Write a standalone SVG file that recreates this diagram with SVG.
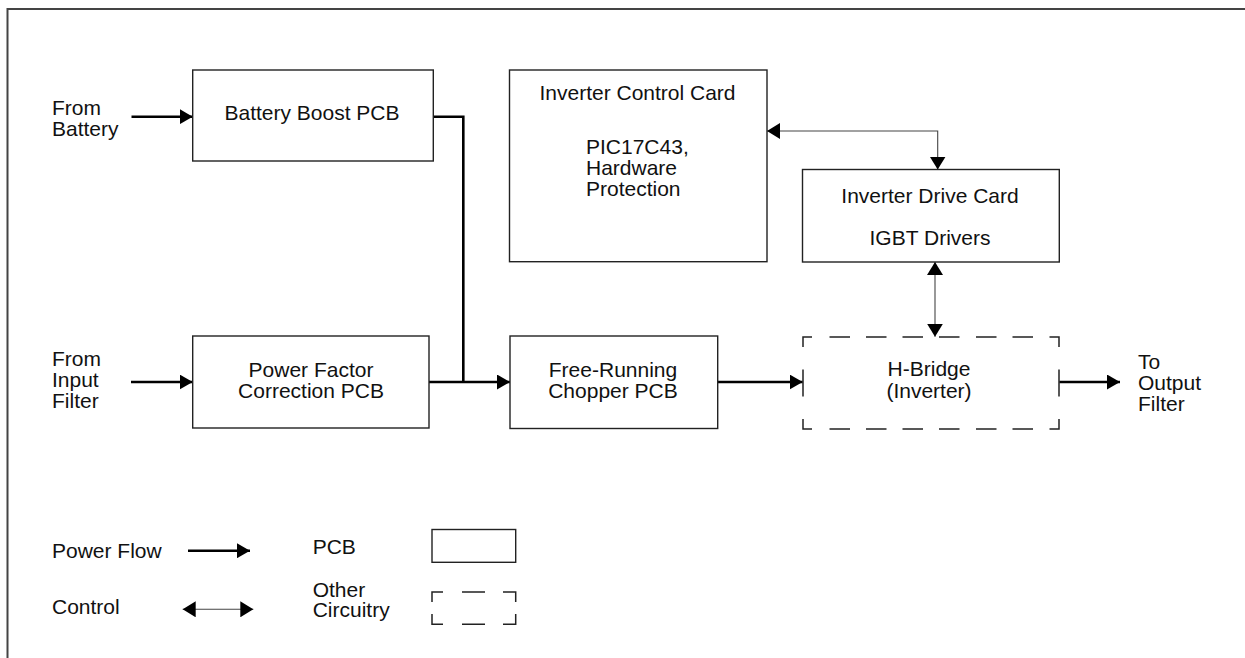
<svg xmlns="http://www.w3.org/2000/svg" width="1245" height="658" viewBox="0 0 1245 658">
<style>
text{font-family:"Liberation Sans",Arial,Helvetica,sans-serif;font-size:21px;fill:#111}
.c{text-anchor:middle}
.box{fill:#fff;stroke:#222;stroke-width:1.4}
.dash{fill:none;stroke:#222;stroke-width:1.5}
.pw{fill:none;stroke:#000;stroke-width:2.6}
.ct{fill:none;stroke:#444;stroke-width:1.1}
.frame{fill:none;stroke:#444;stroke-width:2}
</style>
<defs>
<marker id="ap" markerUnits="userSpaceOnUse" markerWidth="14" markerHeight="15" refX="13" refY="7.5" orient="auto"><path d="M0,0 L13,7.5 L0,15 z" fill="#000"/></marker>
<marker id="ac" markerUnits="userSpaceOnUse" markerWidth="14" markerHeight="16" refX="13" refY="8" orient="auto-start-reverse"><path d="M0,0 L13,8 L0,16 z" fill="#000"/></marker>
</defs>
<rect x="0" y="0" width="1245" height="658" fill="#fff"/>
<path class="frame" d="M7.5,658 V9 H1245"/>

<g id="connectors">
<path class="pw" d="M131.5,116.7 H192.7" marker-end="url(#ap)"/>
<path class="pw" d="M433,116.7 H463.3 V382"/>
<path class="pw" d="M131,382 H192.7" marker-end="url(#ap)"/>
<path class="pw" d="M429,382 H510" marker-end="url(#ap)"/>
<path class="pw" d="M717.7,382 H802.7" marker-end="url(#ap)"/>
<path class="pw" d="M1059.3,382 H1120" marker-end="url(#ap)"/>
<path class="ct" d="M767,131 H937.7 V169.5" marker-start="url(#ac)" marker-end="url(#ac)"/>
<path class="ct" d="M935,262 V336.7" marker-start="url(#ac)" marker-end="url(#ac)"/>
</g>

<g id="from-battery"><text x="52" y="114.5">From</text><text x="52" y="136">Battery</text></g>
<g id="from-input-filter"><text x="52" y="366">From</text><text x="52" y="387">Input</text><text x="52" y="408">Filter</text></g>
<g id="to-output-filter"><text x="1138" y="369">To</text><text x="1138" y="390">Output</text><text x="1138" y="410.7">Filter</text></g>

<g id="battery-boost">
<rect class="box" x="192.7" y="70" width="240.6" height="91"/>
<text class="c" x="312" y="120">Battery Boost PCB</text>
</g>

<g id="pfc">
<rect class="box" x="192.7" y="336" width="236.3" height="92"/>
<text class="c" x="311" y="376.5">Power Factor</text>
<text class="c" x="311" y="397.5">Correction PCB</text>
</g>

<g id="chopper">
<rect class="box" x="510" y="336" width="207.7" height="92.5"/>
<text class="c" x="613" y="376.5">Free-Running</text>
<text class="c" x="613" y="397.5">Chopper PCB</text>
</g>

<g id="control-card">
<rect class="box" x="509.5" y="70" width="257.5" height="191.7"/>
<text class="c" x="637.5" y="100">Inverter Control Card</text>
<text x="586" y="154.3">PIC17C43,</text>
<text x="586" y="175">Hardware</text>
<text x="586" y="195.7">Protection</text>
</g>

<g id="drive-card">
<rect class="box" x="802.5" y="169.5" width="256.8" height="92.5"/>
<text class="c" x="930" y="203.3">Inverter Drive Card</text>
<text class="c" x="930" y="245">IGBT Drivers</text>
</g>

<g id="hbridge">
<path class="dash" d="M812,337 H803 V347 M803,369.5 V396.5 M803,419 V429 H812 M1049.5,337 H1059 V347 M1059,369.5 V396.5 M1059,419 V429 H1049.5 M829.5,337 H850 M866,337 H886.5 M902.5,337 H923 M939,337 H959.5 M976,337 H996.5 M1012.5,337 H1033 M829.5,429 H850 M866,429 H886.5 M902.5,429 H923 M939,429 H959.5 M976,429 H996.5 M1012.5,429 H1033"/>
<text class="c" x="929" y="376">H-Bridge</text>
<text class="c" x="929" y="397.5">(Inverter)</text>
</g>

<g id="legend">
<text x="52" y="557.7">Power Flow</text>
<path class="pw" d="M188,550.7 H250" marker-end="url(#ap)"/>
<text x="52" y="614">Control</text>
<path class="ct" d="M182.7,609.3 H253.3" marker-start="url(#ac)" marker-end="url(#ac)"/>
<text x="312.7" y="554.3">PCB</text>
<rect class="box" x="432" y="529.5" width="83.7" height="32.8"/>
<text x="312.7" y="596.7">Other</text>
<text x="312.7" y="617.3">Circuitry</text>
<path class="dash" d="M443,592 H432 V602 M432,614 V624.3 H443 M503,592 H515.7 V602 M515.7,614 V624.3 H503 M462,592 H485 M462,624.3 H485"/>
</g>
</svg>
